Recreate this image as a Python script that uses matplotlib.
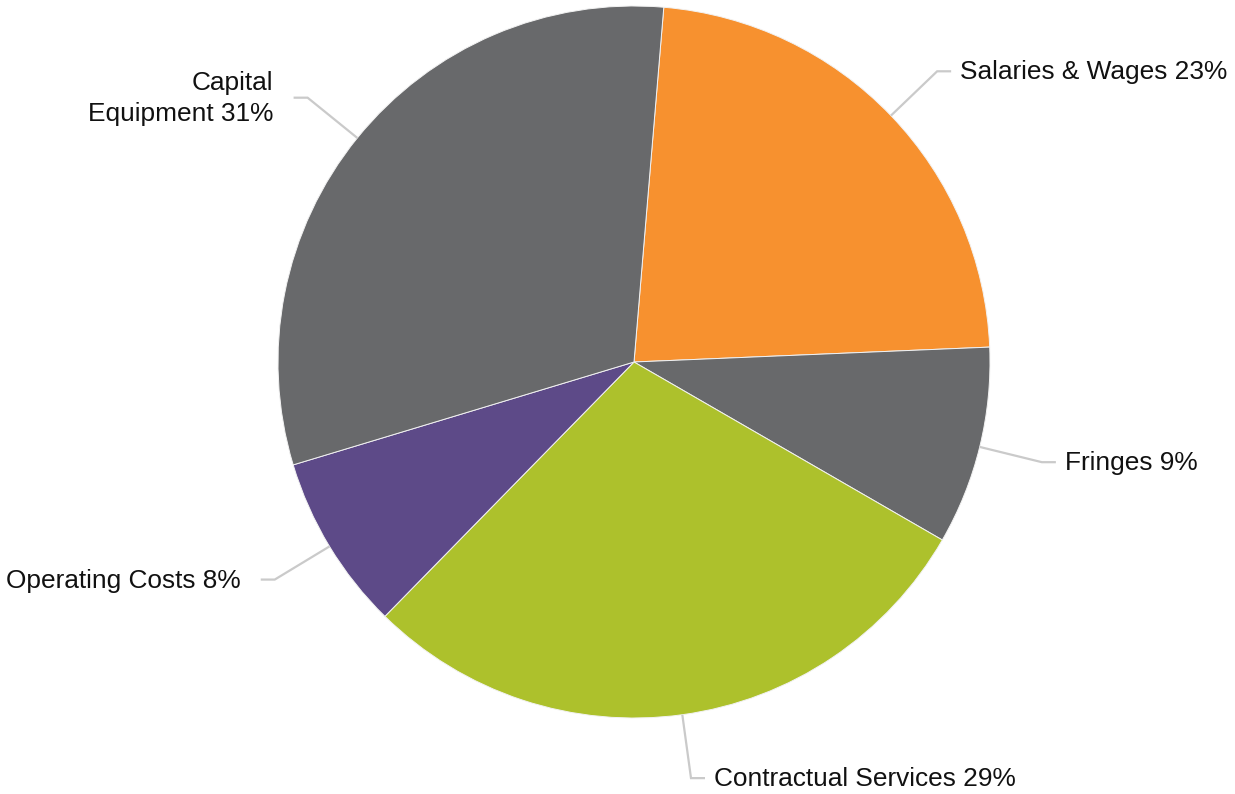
import numpy as np
import matplotlib.pyplot as plt

plt.rcParams['font.family'] = ['Liberation Sans', 'DejaVu Sans']

categories = ['Salaries & Wages', 'Fringes', 'Contractual Services',
              'Operating Costs', 'Capital\nEquipment']
shares = [23, 9, 29, 8, 31]
colors = ['#F7912F', '#68696B', '#ADC12C', '#5D4A88', '#68696B']

W, H = 1235, 794
fig = plt.figure(figsize=(W / 100, H / 100), dpi=100)
ax = fig.add_axes([0, 0, 1, 1])

cx, cy, r = 634, H - 362, 356
wedges, _ = ax.pie(shares, colors=colors, startangle=85.2, counterclock=False,
                   center=(cx, cy), radius=r,
                   wedgeprops=dict(edgecolor='#f2f2f2', linewidth=0.7))

ax.set_xlim(0, W)
ax.set_ylim(0, H)
ax.set_aspect('equal')
ax.axis('off')

# leader lines: radial from the rim, then a short horizontal stub
for w, cat, val in zip(wedges, categories, shares):
    mid = np.deg2rad((w.theta1 + w.theta2) / 2)
    dx, dy = np.cos(mid), np.sin(mid)
    x0, y0 = cx + r * dx, cy + r * dy
    x1, y1 = cx + 420 * dx, cy + 420 * dy
    side = 1 if dx >= 0 else -1
    x2 = x1 + side * 14
    ax.plot([x0, x1, x2], [y0, y1, y1], color='#CACACA', lw=1.6,
            solid_capstyle='butt', solid_joinstyle='miter')
    gap = 9 if side > 0 else 20
    ax.text(x2 + side * gap, y1 - 1, f'{cat} {val}%', fontsize=18.9,
            color='#111111', va='center',
            ha='left' if side > 0 else 'right',
            multialignment='right', linespacing=1.4)

fig.savefig('out.png', dpi=100, facecolor='white')
